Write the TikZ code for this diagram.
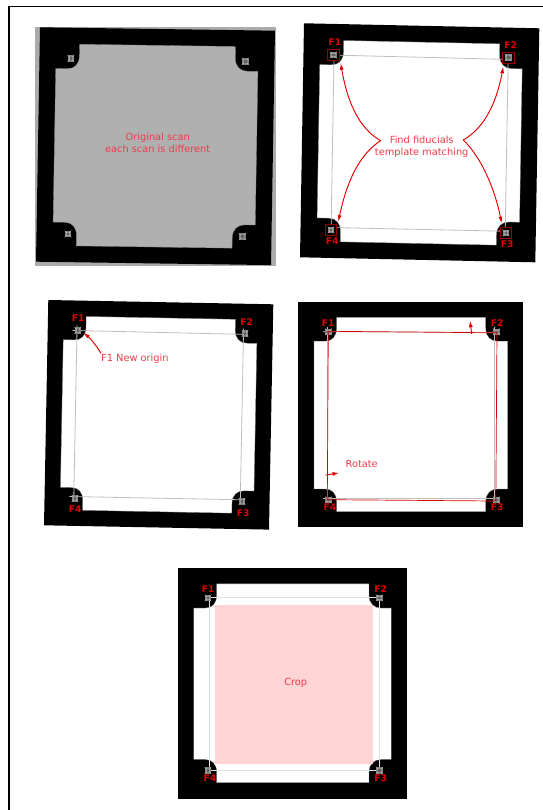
\documentclass[tikz,border=0pt]{standalone}
\usepackage{fontspec}
\setmainfont{DejaVu Sans}
\usetikzlibrary{arrows.meta}
\definecolor{lab}{HTML}{F03A4A}
\definecolor{fid}{HTML}{E00000}
\tikzset{
  x=1pt,y=-1pt,
  guide/.style={draw=black!25,line width=0.8pt},
  note/.style={text=lab,font=\fontsize{9.8}{12.4}\selectfont,align=center,inner sep=0pt},
  fidlab/.style={text=fid,font=\bfseries\fontsize{9.2}{10}\selectfont,inner sep=0pt},
  redarrow/.style={draw=red!90!black,line width=0.95pt,-{Latex[length=6.5pt,width=4pt]}},
  template/.style={draw=fid!70!black,line width=0.6pt},
}
% #1 ox, #2 oy, #3-#6 cm entries, #7 window fill
\newcommand{\cardpanel}[7]{%
\begin{scope}[cm={#3,#4,#5,#6,(#1,#2)}]
  \fill[black] (0,0) rectangle (100,100);
  \path[fill=#7,draw=black!45,line width=0.3pt]
    (17,7) -- (83.3,7) -- (83.3,12)
    .. controls (83.3,15.5) and (85.5,17.5) .. (88.5,17.5)
    -- (93,17.5) -- (93,83) -- (88.5,83)
    .. controls (85.5,83) and (83.3,85) .. (83.3,88.5)
    -- (83.3,93) -- (17,93) -- (17,88.5)
    .. controls (17,85) and (15,83) .. (12,83)
    -- (7,83) -- (7,17.5) -- (12,17.5)
    .. controls (15,17.5) and (17,15.5) .. (17,12) -- cycle;
\end{scope}}
\newcommand{\cardguides}[6]{%
\begin{scope}[cm={#3,#4,#5,#6,(#1,#2)}]
  \draw[guide] (11,13.3) -- (89,13.6);
  \draw[guide] (11,87) -- (89,87);
  \draw[guide] (13,11) -- (13,89);
  \draw[guide] (87,11) -- (87,89);
\end{scope}}
\newcommand{\fidmark}[2]{%
\begin{scope}[shift={(#1,#2)}]
  \fill[black!50] (-3.2,-3.2) rectangle (3.2,3.2);
  \fill[black!30] (-3.6,-3.6) -- (0,-1) -- (3.6,-3.6) -- (1,0) -- (3.6,3.6) -- (0,1) -- (-3.6,3.6) -- (-1,0) -- cycle;
  \fill[black!62] (-1.2,-1.2) rectangle (1.2,1.2);
\end{scope}}
\begin{document}
\begin{tikzpicture}
\useasboundingbox (0,0) rectangle (542,810);
\fill[white] (0,0) rectangle (542,810);
\draw[black,line width=1.5pt] (9,812) -- (9,6.7) -- (544,6.7);
% Panel 1
\fill[black!33] (35,27) rectangle (276,266);
\cardpanel{40}{27.3}{2.35}{-0.034}{0.04}{2.344}{black!31}
\fidmark{70.7}{58.5}\fidmark{245.3}{61.5}\fidmark{242.3}{236.5}\fidmark{68}{234}
\node[note] (t1) at (157.7,143) {Original scan\\each scan is different};
% Panel 2
\cardpanel{304}{23.3}{2.353}{-0.05}{0.04}{2.34}{white}
\cardguides{304}{23.3}{2.353}{-0.05}{0.04}{2.34}
\foreach \p in {{333.3,55},{508.3,57.7},{506,233},{331,230}}{%
  \fill[black] ([shift={(-5.7,-5.7)}]\p) rectangle ([shift={(5.7,5.7)}]\p);
  \draw[template] ([shift={(-5.7,-5.7)}]\p) rectangle ([shift={(5.7,5.7)}]\p);}
\fidmark{333.3}{55}\fidmark{508.3}{57.7}\fidmark{506}{233}\fidmark{331}{230}
\node[fidlab] (a1) at (335,41.7) {F1};
\node[fidlab] (a2) at (510.7,45) {F2};
\node[fidlab] (a3) at (507.3,244.3) {F3};
\node[fidlab] (a4) at (332.3,240.7) {F4};
\node[note] (t2) at (421.7,147) {Find fiducials\\template matching};
\coordinate (s2l) at (380.7,140.7);
\coordinate (s2r) at (463.3,140);
\coordinate (e1) at (340.7,63.3);
\coordinate (e2) at (503.3,66.7);
\coordinate (e3) at (501.7,223.3);
\coordinate (e4) at (338.3,221.7);
\draw[redarrow] (s2l) .. controls (358,128) and (347,100) .. (e1);
\draw[redarrow] (s2l) .. controls (358,155) and (346,185) .. (e4);
\draw[redarrow] (s2r) .. controls (486,127) and (497,100) .. (e2);
\draw[redarrow] (s2r) .. controls (482,158) and (495,190) .. (e3);
% Panel 3
\cardpanel{48.3}{300}{2.25}{-0.043}{0.043}{2.253}{white}
\cardguides{48.3}{300}{2.25}{-0.043}{0.043}{2.253}
\fidmark{77.7}{330.5}\fidmark{245}{333.5}\fidmark{242}{501.5}\fidmark{75}{498.5}
\node[fidlab] (b1) at (78.3,318.3) {F1};
\node[fidlab] (b2) at (246.7,321.7) {F2};
\node[fidlab] (b3) at (243.3,512.7) {F3};
\node[fidlab] (b4) at (75.3,509.3) {F4};
\node[note,anchor=west] (t3) at (101,359) {F1 New origin};
\coordinate (s3) at (101,353.3);
\coordinate (e5) at (83.3,332.7);
\draw[redarrow] (s3) .. controls (96,345) and (90,338) .. (e5);
% Panel 4
\cardpanel{298.3}{301.7}{2.25}{0}{0}{2.256}{white}
\cardguides{298.3}{301.7}{2.25}{0}{0}{2.256}
\fidmark{328.5}{331.7}\fidmark{496.5}{331.7}\fidmark{496.5}{500}\fidmark{328.5}{500}
\draw[red!85!black,line width=0.7pt] (328.3,331.3) -- (497,332.8) -- (495.8,501) -- (327.3,499.7) -- cycle;
\node[fidlab] (c1) at (328.3,322.7) {F1};
\node[fidlab] (c2) at (497.3,322.7) {F2};
\node[fidlab] (c3) at (497.3,507.3) {F3};
\node[fidlab] (c4) at (330,507.3) {F4};
\node[note] (t4) at (361.7,464.3) {Rotate};
\coordinate (s4a) at (471.7,334);
\coordinate (e4a) at (470,320.7);
\coordinate (s4b) at (325.7,475);
\coordinate (e4b) at (339,473);
\draw[redarrow] (s4a) -- (e4a);
\draw[redarrow] (s4b) -- (e4b);
% Panel 5
\cardpanel{177.7}{567.7}{2.296}{0}{0}{2.31}{white}
\begin{scope}[guide,line width=1pt,draw=black!12]
  \draw (208,597.5) -- (380,597.5);
  \draw (208,770.5) -- (380,770.5);
  \draw (209,597) -- (209,771);
  \draw (379.5,597) -- (379.5,771);
\end{scope}
\fill[red!17] (215,605) rectangle (373.3,764);
\fidmark{208}{598}\fidmark{379.5}{598}\fidmark{379.5}{770.5}\fidmark{208}{770.5}
\node[fidlab] (d1) at (208.3,589.3) {F1};
\node[fidlab] (d2) at (380.7,589.3) {F2};
\node[fidlab] (d3) at (380.7,778.3) {F3};
\node[fidlab] (d4) at (210,778.3) {F4};
\node[note] (t5) at (295.7,683.3) {Crop};
\end{tikzpicture}
\end{document}
